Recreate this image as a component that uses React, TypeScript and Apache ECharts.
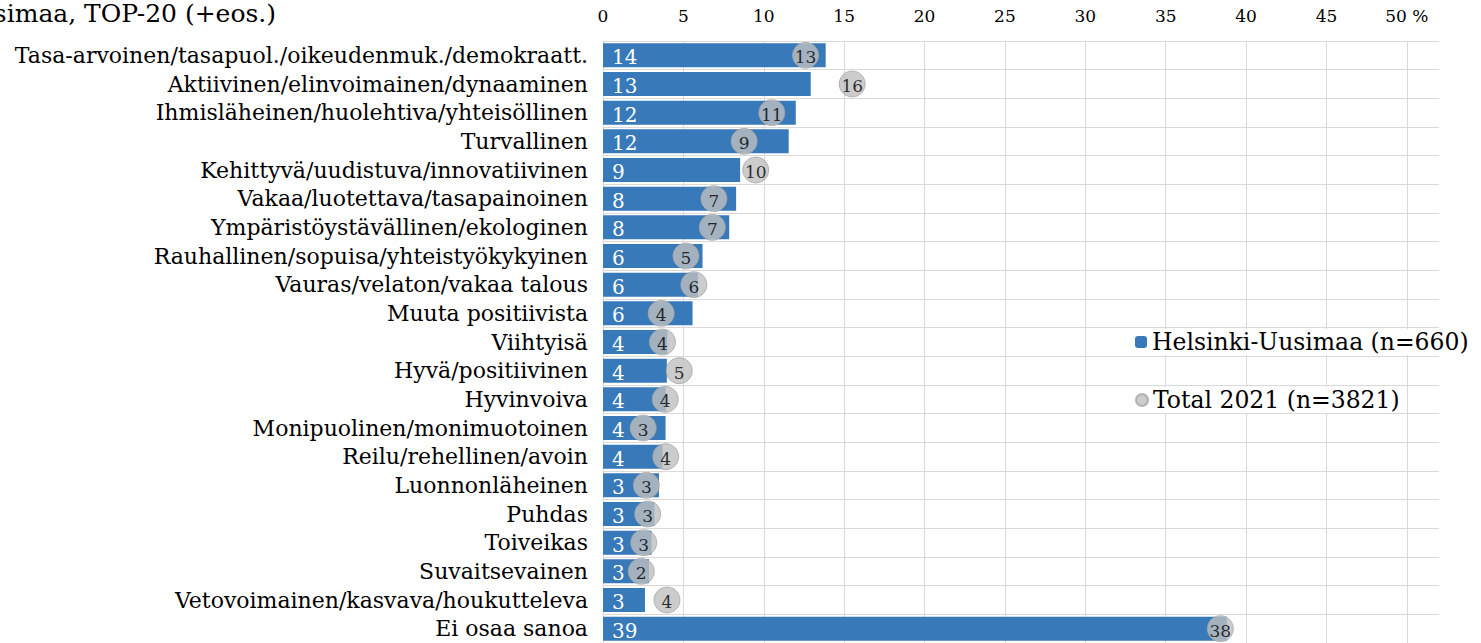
import React, { useEffect, useRef } from "react";
import * as echarts from "echarts";

const categories = [
  "Tasa-arvoinen/tasapuol./oikeudenmuk./demokraatt.",
  "Aktiivinen/elinvoimainen/dynaaminen",
  "Ihmisläheinen/huolehtiva/yhteisöllinen",
  "Turvallinen",
  "Kehittyvä/uudistuva/innovatiivinen",
  "Vakaa/luotettava/tasapainoinen",
  "Ympäristöystävällinen/ekologinen",
  "Rauhallinen/sopuisa/yhteistyökykyinen",
  "Vauras/velaton/vakaa talous",
  "Muuta positiivista",
  "Viihtyisä",
  "Hyvä/positiivinen",
  "Hyvinvoiva",
  "Monipuolinen/monimuotoinen",
  "Reilu/rehellinen/avoin",
  "Luonnonläheinen",
  "Puhdas",
  "Toiveikas",
  "Suvaitsevainen",
  "Vetovoimainen/kasvava/houkutteleva",
  "Ei osaa sanoa",
];

const helsinkiValues = [
  13.85, 12.92, 11.99, 11.55, 8.53, 8.28, 7.85, 6.19, 5.9, 5.57, 4.0, 3.97,
  3.9, 3.89, 3.7, 3.48, 3.2, 3.02, 2.86, 2.61, 38.8,
];

const totalValues = [
  12.6, 15.5, 10.5, 8.78, 9.5, 6.9, 6.8, 5.16, 5.65, 3.62, 3.7, 4.74, 3.87,
  2.5, 3.9, 2.7, 2.78, 2.53, 2.38, 3.98, 38.4,
];

const xTicks = [0, 5, 10, 15, 20, 25, 30, 35, 40, 45, 50];

const seriesNames = ["Helsinki-Uusimaa (n=660)", "Total 2021 (n=3821)"];
const titleText = "Helsinki-Uusimaa, TOP-20 (+eos.)";

const FONT = "DejaVu Serif";

export default function App() {
  const ref = useRef<HTMLDivElement>(null);

  useEffect(() => {
    if (!ref.current) return;
    const chart = echarts.init(ref.current, null, { renderer: "svg" });
    const legendBase = {
      left: 1129,
      orient: "vertical",
      backgroundColor: "#fff",
      padding: [1, 4, 1, 6],
      itemWidth: 12,
      itemHeight: 12,
      itemGap: 8,
      textStyle: { fontFamily: FONT, fontSize: 23.5, color: "#000" },
    };
    const option: any = {
      animation: false,
      backgroundColor: "#ffffff",
      textStyle: { fontFamily: FONT },
      grid: { left: 603, top: 41, width: 836, height: 604.8 },
      xAxis: {
        type: "value",
        position: "top",
        min: 0,
        max: 52,
        interval: 5,
        axisLine: { show: false },
        axisTick: { show: false },
        axisLabel: {
          fontFamily: FONT,
          fontSize: 17,
          color: "#000",
          margin: 17,
          showMaxLabel: false,
          formatter: (v: number) =>
            xTicks.includes(v) ? (v === 50 ? "50 %" : String(v)) : "",
        },
        splitLine: {
          show: true,
          showMaxLine: false,
          lineStyle: { color: "#d9d9d9", width: 1 },
        },
      },
      yAxis: {
        type: "category",
        data: categories,
        inverse: true,
        axisLine: { show: true, lineStyle: { color: "#d9d9d9", width: 1 } },
        axisTick: { show: false },
        axisLabel: {
          fontFamily: FONT,
          fontSize: 22,
          color: "#000",
          margin: 15,
        },
        splitLine: { show: true, lineStyle: { color: "#d9d9d9", width: 1 } },
      },
      legend: [
        { ...legendBase, data: [seriesNames[0]], top: 329 },
        { ...legendBase, data: [seriesNames[1]], top: 387 },
      ],
      graphic: [
        {
          type: "text",
          right: 1481 - 276,
          top: 1,
          style: {
            text: titleText,
            fontFamily: FONT,
            fontSize: 25,
            fill: "#000",
          },
        },
      ],
      series: [
        {
          name: seriesNames[0],
          type: "bar",
          data: helsinkiValues,
          barWidth: 24,
          itemStyle: { color: "#3779b9" },
          label: {
            show: true,
            position: "insideLeft",
            offset: [4, 2],
            fontFamily: FONT,
            fontSize: 20,
            color: "#fff",
            formatter: (p: any) => String(Math.round(p.value)),
          },
          z: 2,
        },
        {
          name: seriesNames[1],
          type: "scatter",
          data: totalValues.map((v, i) => [v, categories[i]]),
          symbol: "circle",
          symbolSize: 26,
          itemStyle: { color: "#bfbfbf", borderColor: "#a6a6a6", borderWidth: 1 },
          label: {
            show: true,
            position: "inside",
            offset: [0, 2],
            fontFamily: FONT,
            fontSize: 17,
            color: "#000",
            formatter: (p: any) => String(Math.round(p.value[0])),
          },
          z: 3,
        },
      ],
    };
    chart.setOption(option);
    return () => chart.dispose();
  }, []);

  return (
    <div
      ref={ref}
      style={{ position: "absolute", left: 0, top: 0, width: 1481, height: 643 }}
    />
  );
}
